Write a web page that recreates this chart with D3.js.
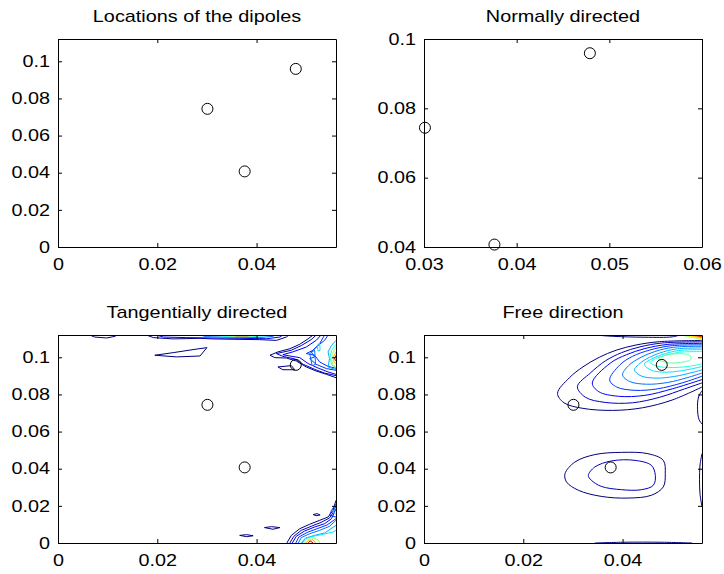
<!DOCTYPE html>
<html>
<head>
<meta charset="utf-8">
<script src="https://cdn.jsdelivr.net/npm/d3@7"></script>
<style>
  body { margin: 0; background: #fff; }
  svg { display: block; }
  text { font-family: "Liberation Sans", Arial, Helvetica, sans-serif; font-size: 16.4px; fill: #000; }
</style>
</head>
<body>
<svg id="chart" width="724" height="574"></svg>
<script>
// dipole locations, same three in every panel
var dipoleX = [0.0301, 0.0376, 0.0479];
var dipoleY = [0.0744, 0.0407, 0.0959];

var titles = ["Locations of the dipoles", "Normally directed", "Tangentially directed", "Free direction"];

var fullXTicks = [0, 0.02, 0.04];
var fullYTicks = [0, 0.02, 0.04, 0.06, 0.08, 0.1];
var zoomXTicks = [0.03, 0.04, 0.05, 0.06];
var zoomYTicks = [0.04, 0.06, 0.08, 0.1];

// contour lines: level = index into the jet map, pts in data units
var tangContours = [
  {level: 0, closed: false, pts: [[0.0064,0.112],[0.0074,0.1109],[0.0098,0.1104],[0.0115,0.1113],[0.0118,0.112]]},
  {level: 0, closed: false, pts: [[0.0178,0.112],[0.0192,0.1106],[0.0232,0.1099],[0.0286,0.1102],[0.0312,0.1099],[0.0353,0.1097],[0.0406,0.1095],[0.0440,0.1091],[0.0460,0.1109],[0.0465,0.112]]},
  {level: 2, closed: false, pts: [[0.0198,0.112],[0.0212,0.1109],[0.0259,0.1106],[0.0312,0.1104],[0.0366,0.1102],[0.0420,0.1100],[0.0447,0.1109],[0.0453,0.112]]},
  {level: 4, closed: false, pts: [[0.0286,0.112],[0.0299,0.1111],[0.0346,0.1108],[0.0406,0.1106],[0.0433,0.1113],[0.0438,0.112]]},
  {level: 7, closed: false, pts: [[0.0319,0.112],[0.0333,0.1113],[0.0393,0.1111],[0.0420,0.1116],[0.0424,0.112]]},
  {level: 11, closed: false, pts: [[0.0339,0.112],[0.0349,0.1115],[0.0386,0.1115],[0.0403,0.112]]},
  {level: 15, closed: false, pts: [[0.0349,0.112],[0.0359,0.1116],[0.0383,0.1116],[0.0390,0.112]]},
  {level: 0, closed: true, pts: [[0.0195,0.1011],[0.0232,0.1025],[0.0276,0.1043],[0.0300,0.1052],[0.0286,0.1007],[0.0239,0.1002]]},
  {level: 0, closed: false, pts: [[0.0514,0.112],[0.0504,0.1100],[0.0487,0.1070],[0.0467,0.1046],[0.0443,0.1029],[0.0427,0.1011],[0.0437,0.0998],[0.0460,0.0996],[0.0480,0.0980],[0.0500,0.0948],[0.0520,0.0926],[0.0541,0.0908],[0.056,0.0890]]},
  {level: 1, closed: false, pts: [[0.0520,0.112],[0.0510,0.1095],[0.0490,0.1063],[0.0470,0.1038],[0.0440,0.1020],[0.0453,0.1005],[0.0477,0.0991],[0.0494,0.0962],[0.0517,0.0935],[0.0537,0.0915],[0.056,0.0901]]},
  {level: 2, closed: false, pts: [[0.0530,0.112],[0.0520,0.1091],[0.0500,0.1055],[0.0473,0.1029],[0.0453,0.1014],[0.0467,0.1007],[0.0487,0.0998],[0.0504,0.0966],[0.0524,0.0942],[0.0544,0.0921],[0.056,0.0908]]},
  {level: 3, closed: false, pts: [[0.0537,0.112],[0.0527,0.1073],[0.0514,0.1038],[0.0500,0.1020],[0.0517,0.1011],[0.0527,0.0975],[0.0544,0.0951],[0.056,0.0941]]},
  {level: 3, closed: false, pts: [[0.0544,0.112],[0.0537,0.1091],[0.0524,0.1064],[0.0510,0.1029],[0.0517,0.1002],[0.0507,0.0993],[0.0520,0.0962],[0.0541,0.0939],[0.056,0.0930]]},
  {level: 4, closed: true, pts: [[0.0507,0.1020],[0.0517,0.1038],[0.0519,0.0962],[0.0512,0.0955]]},
  {level: 6, closed: true, pts: [[0.0522,0.1064],[0.0527,0.1077],[0.0528,0.1038],[0.0524,0.1034]]},
  {level: 5, closed: false, pts: [[0.056,0.1091],[0.0551,0.1064],[0.0544,0.1029],[0.0547,0.0993],[0.0544,0.0948],[0.056,0.0933]]},
  {level: 7, closed: false, pts: [[0.056,0.1070],[0.0551,0.1038],[0.0548,0.0998],[0.0552,0.0957],[0.056,0.0944]]},
  {level: 9, closed: false, pts: [[0.056,0.1055],[0.0553,0.1020],[0.0551,0.0993],[0.0554,0.0957],[0.056,0.0948]]},
  {level: 12, closed: false, pts: [[0.056,0.1029],[0.0555,0.1002],[0.0556,0.0975],[0.056,0.0966]]},
  {level: 16, closed: false, pts: [[0.056,0.1011],[0.0557,0.0993],[0.056,0.0980]]},
  {level: 0, closed: true, pts: [[0.0443,0.0948],[0.0470,0.0955],[0.0477,0.0933],[0.0453,0.0933]]},
  {level: 0, closed: false, pts: [[0.0461,0],[0.0470,0.0041],[0.0487,0.0077],[0.0507,0.0101],[0.0527,0.0122],[0.0544,0.0140],[0.0554,0.0176],[0.056,0.0230]]},
  {level: 1, closed: false, pts: [[0.0467,0],[0.0475,0.0036],[0.0490,0.0068],[0.0510,0.0090],[0.0530,0.0111],[0.0547,0.0135],[0.0556,0.0172],[0.056,0.0203]]},
  {level: 2, closed: false, pts: [[0.0472,0],[0.0480,0.0036],[0.0497,0.0065],[0.0517,0.0086],[0.0537,0.0104],[0.0551,0.0131],[0.056,0.0185]]},
  {level: 3, closed: false, pts: [[0.0479,0],[0.0485,0.0032],[0.0502,0.0057],[0.0522,0.0077],[0.0542,0.0097],[0.056,0.0131]]},
  {level: 4, closed: false, pts: [[0.0484,0],[0.0490,0.0029],[0.0507,0.0050],[0.0527,0.0068],[0.0547,0.0090],[0.056,0.0122]]},
  {level: 5, closed: false, pts: [[0.0492,0],[0.0499,0.0027],[0.0517,0.0041],[0.0537,0.0054],[0.056,0.0095]]},
  {level: 6, closed: false, pts: [[0.0490,0],[0.0497,0.0023],[0.0514,0.0036],[0.0534,0.0047],[0.0554,0.0059],[0.056,0.0068]]},
  {level: 9, closed: false, pts: [[0.0495,0],[0.0500,0.0018],[0.0510,0.0029],[0.0524,0.0018],[0.0527,0]]},
  {level: 12, closed: false, pts: [[0.0499,0],[0.0504,0.0014],[0.0514,0.0018],[0.0519,0]]},
  {level: 16, closed: false, pts: [[0.0504,0],[0.0508,0.0011],[0.0514,0]]},
  {level: 3, closed: false, pts: [[0.056,0.0212],[0.0551,0.0176],[0.0547,0.0149],[0.056,0.0140]]},
  {level: 6, closed: false, pts: [[0.056,0.0190],[0.0554,0.0167],[0.056,0.0154]]},
  {level: 0, closed: true, pts: [[0.0514,0.0153],[0.0522,0.0158],[0.0528,0.0151],[0.0520,0.0147]]},
  {level: 0, closed: true, pts: [[0.0416,0.0083],[0.0430,0.0088],[0.0447,0.0083],[0.0433,0.0074]]},
  {level: 0, closed: true, pts: [[0.0366,0.0041],[0.0380,0.0045],[0.0393,0.0039],[0.0380,0.0034]]}
];

var freeContours = [
  {level: 0, closed: false, pts: [[0.056,0.1090],[0.0474,0.1084],[0.0427,0.1066],[0.0387,0.1038],[0.0353,0.1000],[0.0320,0.0948],[0.0293,0.0890],[0.0269,0.0806],[0.0282,0.0755],[0.0320,0.0725],[0.0380,0.0714],[0.0440,0.0728],[0.0500,0.0770],[0.056,0.0840]]},
  {level: 1, closed: false, pts: [[0.056,0.1083],[0.0480,0.1077],[0.0435,0.1056],[0.0398,0.1025],[0.0365,0.0980],[0.0335,0.0915],[0.0309,0.0842],[0.0325,0.0785],[0.0365,0.0757],[0.0420,0.0755],[0.0475,0.0785],[0.0525,0.0830],[0.056,0.0862]]},
  {level: 2, closed: false, pts: [[0.056,0.1075],[0.0490,0.1069],[0.0445,0.1047],[0.0408,0.1014],[0.0375,0.0968],[0.0339,0.0862],[0.0352,0.0815],[0.0392,0.0790],[0.0445,0.0795],[0.0500,0.0830],[0.056,0.0880]]},
  {level: 3, closed: false, pts: [[0.056,0.1067],[0.0497,0.1062],[0.0455,0.1039],[0.0420,0.1005],[0.0395,0.0960],[0.0374,0.0878],[0.0388,0.0840],[0.0425,0.0822],[0.0470,0.0830],[0.0520,0.0862],[0.056,0.0898]]},
  {level: 4, closed: false, pts: [[0.056,0.1059],[0.0503,0.1054],[0.0465,0.1031],[0.0435,0.0997],[0.0412,0.0955],[0.0400,0.0905],[0.0414,0.0870],[0.0448,0.0855],[0.0490,0.0864],[0.0530,0.0890],[0.056,0.0915]]},
  {level: 5, closed: false, pts: [[0.056,0.1050],[0.0508,0.1045],[0.0475,0.1023],[0.0448,0.0991],[0.0432,0.0960],[0.0424,0.0932],[0.0437,0.0900],[0.0467,0.0888],[0.0505,0.0897],[0.0540,0.0918],[0.056,0.0932]]},
  {level: 6, closed: false, pts: [[0.056,0.1041],[0.0512,0.1036],[0.0482,0.1016],[0.0458,0.0990],[0.0444,0.0962],[0.0458,0.0930],[0.0487,0.0920],[0.0520,0.0928],[0.056,0.0950]]},
  {level: 7, closed: false, pts: [[0.056,0.1031],[0.0515,0.1027],[0.0488,0.1012],[0.0466,0.0992],[0.0456,0.0972],[0.0470,0.0952],[0.0500,0.0945],[0.0530,0.0950],[0.056,0.0965]]},
  {level: 8, closed: true, pts: [[0.0472,0.0990],[0.0486,0.1010],[0.0512,0.1019],[0.0534,0.1012],[0.0538,0.0990],[0.0516,0.0972],[0.0488,0.0972]]},
  {level: 9, closed: false, pts: [[0.0518,0.112],[0.0541,0.1107],[0.056,0.1095]]},
  {level: 10, closed: false, pts: [[0.0524,0.112],[0.0544,0.1109],[0.056,0.1099]]},
  {level: 11, closed: false, pts: [[0.0530,0.112],[0.0546,0.1110],[0.056,0.1102]]},
  {level: 12, closed: false, pts: [[0.0535,0.112],[0.0549,0.1112],[0.056,0.1105]]},
  {level: 13, closed: false, pts: [[0.0540,0.112],[0.0551,0.1113],[0.056,0.1108]]},
  {level: 14, closed: false, pts: [[0.0545,0.112],[0.0553,0.1115],[0.056,0.1111]]},
  {level: 15, closed: false, pts: [[0.0550,0.112],[0.0555,0.1116],[0.056,0.1114]]},
  {level: 16, closed: false, pts: [[0.0554,0.112],[0.0557,0.1118],[0.056,0.1117]]},
  {level: 0, closed: false, pts: [[0.0344,0.112],[0.0380,0.1113],[0.0445,0.1108],[0.0500,0.1110],[0.0515,0.112]]},
  {level: 0, closed: false, pts: [[0.056,0.0820],[0.0553,0.0786],[0.0551,0.0720],[0.0554,0.0665],[0.056,0.0640]]},
  {level: 0, closed: false, pts: [[0.056,0.0481],[0.0556,0.0420],[0.0555,0.0340],[0.0556,0.0265],[0.056,0.0194]]},
  {level: 0, closed: false, pts: [[0.0344,0],[0.0400,0.0004],[0.0480,0.0004],[0.0540,0]]},
  {level: 0, closed: true, pts: [[0.0284,0.0373],[0.0304,0.0436],[0.0344,0.0476],[0.0398,0.0488],[0.0451,0.0481],[0.0482,0.0445],[0.0486,0.0373],[0.0482,0.0302],[0.0458,0.0257],[0.0411,0.0242],[0.0357,0.0251],[0.0311,0.0284],[0.0287,0.0329]]},
  {level: 1, closed: true, pts: [[0.0331,0.0364],[0.0344,0.0409],[0.0378,0.0442],[0.0425,0.0445],[0.0458,0.0418],[0.0466,0.0364],[0.0462,0.0311],[0.0438,0.0287],[0.0398,0.0287],[0.0357,0.0305],[0.0337,0.0338]]}
];

var W = 278, H = 208;
var panels = [
  {left: 58, top: 39, xDomain: [0, 0.056], yDomain: [0, 0.112], xTicks: fullXTicks, yTicks: fullYTicks, contours: [], smooth: false},
  {left: 424, top: 39, xDomain: [0.03, 0.06], yDomain: [0.04, 0.1], xTicks: zoomXTicks, yTicks: zoomYTicks, contours: [], smooth: false},
  {left: 58, top: 335, xDomain: [0, 0.056], yDomain: [0, 0.112], xTicks: fullXTicks, yTicks: fullYTicks, contours: tangContours, smooth: false},
  {left: 424, top: 335, xDomain: [0, 0.056], yDomain: [0, 0.112], xTicks: fullXTicks, yTicks: fullYTicks, contours: freeContours, smooth: true}
];

// MATLAB jet colour map
function jet(t) {
  var clamp = function(v) { return Math.max(0, Math.min(1, v)); };
  var r = clamp(Math.min(4 * t - 1.5, -4 * t + 4.5));
  var g = clamp(Math.min(4 * t - 0.5, -4 * t + 3.5));
  var b = clamp(Math.min(4 * t + 0.5, -4 * t + 2.5));
  return d3.rgb(r * 255, g * 255, b * 255).toString();
}
var color = d3.scaleSequential(jet).domain([0, 17]);

var svg = d3.select("#chart");
var textScale = "scale(1.21,1)";

panels.forEach(function(p, i) {
  var x = d3.scaleLinear().domain(p.xDomain).range([0, W]);
  var y = d3.scaleLinear().domain(p.yDomain).range([H, 0]);

  var g = svg.append("g").attr("transform", "translate(" + p.left + "," + p.top + ")");

  g.append("clipPath").attr("id", "clip" + i)
    .append("rect").attr("width", W).attr("height", H);

  // contour lines
  var lineOpen = d3.line()
      .x(function(d) { return x(d[0]); })
      .y(function(d) { return y(d[1]); })
      .curve(p.smooth ? d3.curveCatmullRom : d3.curveLinear);
  var lineClosed = d3.line()
      .x(function(d) { return x(d[0]); })
      .y(function(d) { return y(d[1]); })
      .curve(p.smooth ? d3.curveCatmullRomClosed : d3.curveLinearClosed);

  g.append("g").attr("clip-path", "url(#clip" + i + ")")
    .selectAll("path")
    .data(p.contours)
    .enter()
    .append("path")
      .attr("d", function(d) { return d.closed ? lineClosed(d.pts) : lineOpen(d.pts); })
      .attr("fill", "none")
      .attr("stroke", function(d) { return color(d.level); })
      .attr("stroke-width", 1)
      .attr("stroke-linejoin", "round");

  // axes: ticks point inwards on all four sides, labels only bottom and left
  var fmt = function(d) { return String(d); };
  var xb = g.append("g").attr("transform", "translate(0," + H + ")")
    .call(d3.axisBottom(x).tickValues(p.xTicks).tickSizeInner(-4).tickSizeOuter(0).tickPadding(11).tickFormat(fmt));
  var yl = g.append("g")
    .call(d3.axisLeft(y).tickValues(p.yTicks).tickSizeInner(-4).tickSizeOuter(0).tickPadding(6.6).tickFormat(fmt));
  g.append("g")
    .call(d3.axisTop(x).tickValues(p.xTicks).tickSizeInner(-4).tickSizeOuter(0).tickFormat(""));
  g.append("g").attr("transform", "translate(" + W + ",0)")
    .call(d3.axisRight(y).tickValues(p.yTicks).tickSizeInner(-4).tickSizeOuter(0).tickFormat(""));

  g.selectAll(".domain").attr("stroke", "#000");
  g.selectAll(".tick line").attr("stroke", "#000");
  xb.selectAll("text").attr("transform", textScale);
  yl.selectAll("text").attr("transform", textScale);

  // dipole markers
  g.selectAll(".dipole")
    .data(dipoleX)
    .enter()
    .append("circle")
      .attr("class", "dipole")
      .attr("cx", function(d) { return x(d); })
      .attr("cy", function(d, j) { return y(dipoleY[j]); })
      .attr("r", 5.5)
      .attr("fill", "none")
      .attr("stroke", "#000")
      .attr("stroke-width", 1);

  g.append("g").attr("transform", "translate(" + (W / 2) + ",-17)")
    .append("text")
      .attr("text-anchor", "middle")
      .attr("transform", textScale)
      .text(titles[i]);
});
</script>
</body>
</html>
